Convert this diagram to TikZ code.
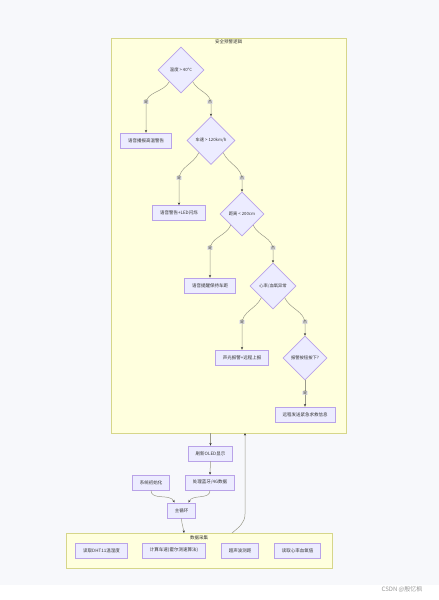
\documentclass[tikz,border=0pt]{standalone}
\usepackage{fontspec}
\setmainfont{Noto Sans CJK SC}
\usetikzlibrary{shapes.geometric,arrows.meta}
\definecolor{bgc}{HTML}{F7F8FB}
\definecolor{clfill}{HTML}{FFFFDE}
\definecolor{clline}{HTML}{D6D68A}
\definecolor{nfill}{HTML}{ECECFF}
\definecolor{nline}{HTML}{B9A3E8}
\definecolor{eline}{HTML}{9A9A8A}
\definecolor{ehead}{HTML}{333333}
\definecolor{txt}{HTML}{333333}
\definecolor{lblbg}{HTML}{E8E8E8}
\tikzset{
  box/.style={rectangle, draw=nline, fill=nfill, line width=0.8pt, minimum height=15pt, inner xsep=7.5pt, inner ysep=0pt, font=\fontsize{4.5}{5}\selectfont, text=txt},
  dia/.style={diamond, draw=nline, fill=nfill, line width=0.6pt, minimum width=46pt, minimum height=46pt, inner sep=0pt, font=\fontsize{4.3}{5}\selectfont, text=txt},
  cluster/.style={rectangle, draw=clline, fill=clfill, line width=0.8pt, anchor=north west, inner sep=0pt},
  ctitle/.style={font=\fontsize{4.5}{5}\selectfont, text=txt, inner sep=0pt},
  edge/.style={draw=eline, line width=0.5pt, -{Stealth[length=2.6pt,width=2.2pt,color=ehead]}},
  lbl/.style={fill=lblbg, fill opacity=0.9, text opacity=1, text=txt, font=\fontsize{4}{4.5}\selectfont, inner sep=0.7pt}
}
\begin{document}
\begin{tikzpicture}[x=1pt,y=-1pt]
\useasboundingbox (0,0) rectangle (439,600);
\fill[bgc] (0,0) rectangle (439,585);
\fill[white] (0,585) rectangle (439,600);

% clusters
\node[cluster, minimum width=235pt, minimum height=395pt] (c1) at (111,38) {};
\node[ctitle] (c1t) at (228.5,41.5) {安全预警逻辑};
\node[cluster, minimum width=266pt, minimum height=35pt] (c2) at (66,533) {};
\node[ctitle] (c2t) at (199,537.5) {数据采集};

% decision chain
\node[dia] (d1) at (181,70) {温度 > 40°C};
\node[box] (b1) at (146,140.5) {语音播报高温警告};
\node[dia, minimum width=48pt, minimum height=48pt] (d2) at (211,140.5) {车速 > 120km/h};
\node[box] (b2) at (179,213) {语音警告+LED闪烁};
\node[dia, minimum width=44pt, minimum height=44pt] (d3) at (242,214) {距离 < 200cm};
\node[box] (b3) at (210,285.5) {语音提醒保持车距};
\node[dia] (d4) at (273,286) {心率/血氧异常};
\node[box] (b4) at (242,357.5) {声光报警+远程上报};
\node[dia, minimum width=44pt, minimum height=44pt] (d5) at (305,358) {报警按钮按下?};
\node[box] (b5) at (305,414.5) {远程发送紧急求救信息};

% lower part
\node[box] (oled) at (210.5,453.5) {刷新OLED显示};
\node[box] (init) at (151,482.5) {系统初始化};
\node[box] (proc) at (210,482.5) {处理蓝牙/4G数据};
\node[box] (loop) at (181.5,510.5) {主循环};

\node[box] (s1) at (101.5,550.5) {读取DHT11温湿度};
\node[box] (s2) at (174,550.5) {计算车速(霍尔测速算法)};
\node[box] (s3) at (240,550.5) {超声波测距};
\node[box] (s4) at (297.5,550.5) {读取心率血氧值};

% edges in cluster
\draw[edge] (d1.-135) to[out=-118,in=90] (146,104) -- (b1.north);
\draw[edge] (d1.-45) to[out=-62,in=90] (211,104) -- (d2.north);
\draw[edge] (d2.-135) to[out=-115,in=90] (179,180) -- (b2.north);
\draw[edge] (d2.-45) to[out=-65,in=90] (242,180) -- (d3.north);
\draw[edge] (d3.-135) to[out=-115,in=90] (210,250) -- (b3.north);
\draw[edge] (d3.-45) to[out=-65,in=90] (273,250) -- (d4.north);
\draw[edge] (d4.-135) to[out=-115,in=90] (242,324) -- (b4.north);
\draw[edge] (d4.-45) to[out=-65,in=90] (305,324) -- (d5.north);
\draw[edge] (d5.south) -- (b5.north);

\node[lbl] (l1) at (146,102) {是};
\node[lbl] (l2) at (210,102) {否};
\node[lbl] (l3) at (179,178) {是};
\node[lbl] (l4) at (242,178) {否};
\node[lbl] (l5) at (210,248) {是};
\node[lbl] (l6) at (273,248) {否};
\node[lbl] (l7) at (242,322) {是};
\node[lbl] (l8) at (305,322) {否};
\node[lbl] (l9) at (305,393) {是};

% outer edges
\coordinate (c1out) at (210.5,433);
\coordinate (c1in) at (245,433);
\coordinate (c2in) at (184,533);
\coordinate (c2out) at (232,533);
\draw[edge] (c1out) -- (oled.north);
\draw[edge] (oled.south) -- (proc.north);
\draw[edge] (init.south) to[out=-90,in=115] ([xshift=-7pt]loop.north);
\draw[edge] (proc.south) to[out=-90,in=65] ([xshift=7pt]loop.north);
\draw[edge] (loop.south) to[out=-90,in=95] (c2in);
\draw[edge] (c2out) to[out=40,in=-90] (245,514) -- (c1in);

% watermark
\node[font=\fontsize{6}{7}\selectfont, text=black!40, inner sep=0pt] (wm) at (402,589) {CSDN @殷忆枫};
\end{tikzpicture}
\end{document}
